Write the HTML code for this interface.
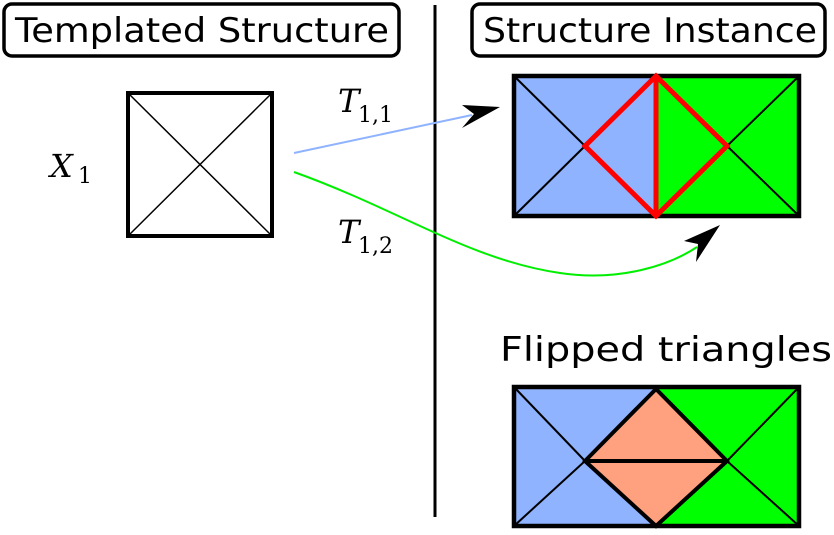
<!DOCTYPE html>
<html><head><style>
body{margin:0;background:#fff;}
svg{display:block;}
.s{font-family:"DejaVu Sans","Liberation Sans",sans-serif;}
.m{font-family:"DejaVu Serif","Liberation Serif",serif;}
</style></head><body>
<svg width="834" height="535" viewBox="0 0 834 535" xmlns="http://www.w3.org/2000/svg">
<rect x="4" y="4" width="395" height="52" rx="8" fill="#fff" stroke="#000" stroke-width="3.5"/>
<text class="s" x="15" y="42" font-size="34" textLength="374" lengthAdjust="spacingAndGlyphs">Templated Structure</text>
<rect x="472" y="4" width="353" height="52" rx="8" fill="#fff" stroke="#000" stroke-width="3.5"/>
<text class="s" x="483" y="42" font-size="34" textLength="334" lengthAdjust="spacingAndGlyphs">Structure Instance</text>
<line x1="435" y1="5" x2="435" y2="517" stroke="#000" stroke-width="3"/>
<rect x="128" y="93" width="144" height="143" fill="#fff" stroke="#000" stroke-width="4"/>
<line x1="128" y1="93" x2="272" y2="236" stroke="#000" stroke-width="1.5"/>
<line x1="272" y1="93" x2="128" y2="236" stroke="#000" stroke-width="1.5"/>
<text class="m" x="50" y="177" font-size="32" font-style="italic">X</text>
<text class="m" x="78" y="183" font-size="22">1</text>
<text class="m" x="338" y="112" font-size="32" font-style="italic">T</text>
<text class="m" x="358" y="122" font-size="22">1,1</text>
<text class="m" x="338" y="243" font-size="32" font-style="italic">T</text>
<text class="m" x="358" y="253" font-size="22">1,2</text>
<line x1="294" y1="153" x2="472" y2="115" stroke="#8fb3ff" stroke-width="2"/>
<path d="M500,107 L462,105 L474,114 L462,128 Z" fill="#000"/>
<path d="M294,172 C400,210 470,260 560,273 C620,282 670,265 697,247" fill="none" stroke="#00ee00" stroke-width="2"/>
<path d="M720,225 L684,241 L698,244 L696,262 Z" fill="#000"/>
<rect x="514" y="76" width="142" height="140" fill="#8fb3ff"/>
<rect x="656" y="76" width="143" height="140" fill="#00ff00"/>
<line x1="514" y1="76" x2="585" y2="146" stroke="#000" stroke-width="2"/>
<line x1="514" y1="216" x2="585" y2="146" stroke="#000" stroke-width="2"/>
<line x1="799" y1="76" x2="727" y2="146" stroke="#000" stroke-width="2"/>
<line x1="799" y1="216" x2="727" y2="146" stroke="#000" stroke-width="2"/>
<rect x="514" y="76" width="285" height="140" fill="none" stroke="#000" stroke-width="4.5"/>
<polygon points="656,76 585,146 656,216 727,146" fill="none" stroke="#ff0000" stroke-width="5"/>
<line x1="656" y1="76" x2="656" y2="216" stroke="#ff0000" stroke-width="5"/>
<text class="s" x="500" y="361" font-size="34" textLength="332" lengthAdjust="spacingAndGlyphs">Flipped triangles</text>
<rect x="514" y="387" width="142" height="139" fill="#8fb3ff"/>
<rect x="656" y="387" width="143" height="139" fill="#00ff00"/>
<line x1="514" y1="387" x2="585" y2="461" stroke="#000" stroke-width="2"/>
<line x1="514" y1="526" x2="585" y2="461" stroke="#000" stroke-width="2"/>
<line x1="799" y1="387" x2="727" y2="461" stroke="#000" stroke-width="2"/>
<line x1="799" y1="526" x2="727" y2="461" stroke="#000" stroke-width="2"/>
<polygon points="656,389 585,461 656,526 727,461" fill="#ffa07f" stroke="#000" stroke-width="4"/>
<line x1="585" y1="461" x2="727" y2="461" stroke="#000" stroke-width="4"/>
<rect x="514" y="387" width="285" height="139" fill="none" stroke="#000" stroke-width="4.5"/>
</svg>
</body></html>
